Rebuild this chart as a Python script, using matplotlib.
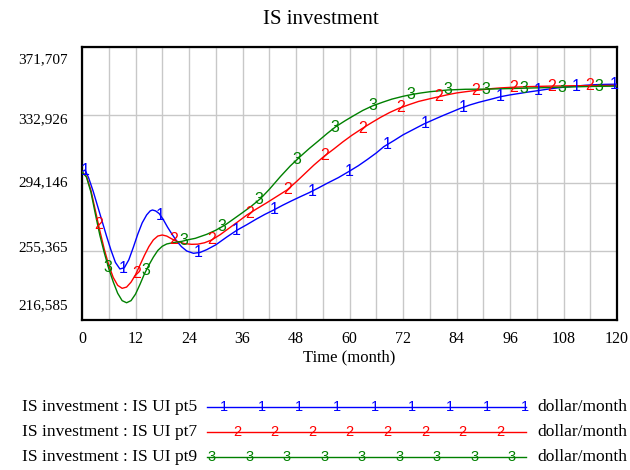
import numpy as np
import matplotlib
matplotlib.use("Agg")
import matplotlib.pyplot as plt
from matplotlib.lines import Line2D
import matplotlib.transforms as mtransforms

# data
t_pt5 = [0, 0.7, 1.5, 2.5, 3.5, 4.5, 5.5, 6.5, 7.5, 8.5, 9.5, 10.5, 11.5, 12.5, 13.5, 14.5, 15.3,
         15.8, 16.5, 17.3, 18.2, 19.2, 20.2, 21.2, 22.3, 23.5, 25, 26.5, 28, 30, 32.5, 34.8, 37,
         39, 41, 43, 45, 47, 49, 50.9, 53, 55, 57.5, 59.8, 62, 64, 66, 67.7, 70, 72, 74.5, 76.7,
         79, 81, 83, 84.9, 87, 89, 91.5, 93.9, 96, 98, 100, 102.2, 104, 106, 108.5, 111.2, 113,
         115, 117.5, 120]
v_pt5 = [300500, 301500, 297000, 289500, 281000, 272500, 264000, 256000, 249000, 245300, 246000,
         250500, 257500, 265000, 271500, 276000, 278300, 278800, 278300, 276800, 273500, 269000,
         265000, 261300, 258000, 255500, 254200, 254700, 256300, 259000, 263500, 267400, 270500,
         273500, 276300, 278800, 281500, 284000, 286400, 288600, 291300, 294000, 297200, 300600,
         304000, 307500, 311200, 314800, 318300, 321500, 324800, 327700, 330300, 332500, 334600,
         336600, 338500, 340000, 341600, 343200, 344200, 345000, 345800, 346600, 347300, 348000,
         348700, 349300, 349700, 350000, 350200, 350300]

t_pt7 = [0, 1, 2, 3, 4, 5, 6, 7, 8, 9, 10, 11, 12, 13, 14, 15, 16, 17, 18, 19, 20.2, 21.5, 23,
         24.6, 26, 27.5, 29.1, 31, 33, 35, 37, 39, 41.5, 44, 46, 48, 50, 52, 54.2, 56.5, 58.5,
         60.5, 62.9, 65, 67, 69, 71.1, 73.5, 75.5, 78, 80.1, 82, 84, 86, 87.9, 90, 92, 94, 96.2,
         100, 105, 110, 115, 120]
v_pt7 = [300500, 298000, 290000, 278500, 267000, 256500, 247500, 240500, 236000, 234300, 235000,
         237800, 242000, 247500, 253000, 258000, 261800, 264000, 264600, 264000, 262300, 260800,
         259700, 259300, 259400, 260200, 261800, 264800, 268500, 272200, 276000, 279200, 283000,
         287000, 290200, 294700, 299500, 304300, 309100, 313500, 317500, 321200, 325200, 328500,
         331500, 334200, 336600, 338800, 340500, 342000, 343200, 344300, 345300, 346000, 346600,
         347200, 347800, 348200, 348500, 348900, 349200, 349400, 349500, 349600]

t_pt9 = [0, 1, 2, 3, 4, 5, 6, 7, 8, 9, 10, 11, 12, 13, 14, 15, 16, 17, 18, 19, 20.5, 22.4, 24,
         25.4, 28, 30, 32.1, 34, 36, 38, 40, 42, 44.5, 46.7, 49, 51, 53, 55, 56.9, 59, 61, 63,
         65.1, 67.5, 69.5, 72, 74.1, 76, 78, 80, 82, 84, 86, 88.5, 90.9, 93.5, 96, 99, 102, 105,
         108, 111, 114, 117, 120]
v_pt9 = [300500, 297500, 289000, 276500, 264500, 254500, 245500, 238000, 231500, 227300, 226100,
         227300, 231000, 236500, 242500, 247500, 252000, 255800, 258200, 259500, 260300, 261000,
         262000, 262700, 265000, 267300, 270300, 273700, 277300, 281000, 285200, 290500, 297800,
         303800, 309300, 313800, 318000, 322300, 326100, 329500, 332500, 335400, 337900, 340100,
         341800, 343400, 344500, 345300, 346000, 346500, 347000, 347200, 347400, 347450, 347500,
         347650, 347800, 348000, 348200, 348400, 348600, 348800, 349000, 349100, 349200]

y_ticks = [216585, 255365.5, 294146, 332926.5, 371707]
y_tick_labels = ["216,585", "255,365", "294,146", "332,926", "371,707"]
x_ticks = list(range(0, 121, 12))

series = [
    ("IS investment : IS UI pt5", "1", "#0000ff", t_pt5, v_pt5, 0.7),
    ("IS investment : IS UI pt7", "2", "#ff0000", t_pt7, v_pt7, 3.7),
    ("IS investment : IS UI pt9", "3", "#008000", t_pt9, v_pt9, 5.9),
]

serif = "Liberation Serif"
marker_font = "Liberation Sans"

fig = plt.figure(figsize=(6.3, 4.7), dpi=100)
ax = fig.add_axes([82 / 630, 1 - 319.5 / 470, 535 / 630, 273 / 470])

for name, num, col, t, v, start in series:
    ax.plot(t, v, color=col, lw=1.0, zorder=3)
    # number labels along the line, Vensim style
    for m in np.arange(start, 120, 8.47):
        ax.text(m, np.interp(m, t, v), num, color=col, fontsize=11.5, family=marker_font,
                ha="center", va="center", zorder=4)

ax.set_xlim(0, 120)
ax.set_ylim(y_ticks[0], y_ticks[-1])
ax.set_xticks(x_ticks)
ax.set_xticklabels([str(x) for x in x_ticks], family=serif, fontsize=11.5)
ax.set_xticks(np.arange(0, 121, 6), minor=True)
ax.set_yticks(y_ticks)
ax.set_yticklabels([])
ax.tick_params(length=0, which="both", pad=8)
ax.grid(True, which="both", axis="x", color="#c8c8c8", lw=1)
ax.grid(True, axis="y", color="#c8c8c8", lw=1)
for s in ax.spines.values():
    s.set_linewidth(1.6)

# y labels are spread a bit inside the axis ends in the reference
nudge = [14, 4, 0, -5, -13]
trans = mtransforms.blended_transform_factory(ax.transAxes, ax.transData)
for val, lab, dy in zip(y_ticks, y_tick_labels, nudge):
    tr = trans + mtransforms.ScaledTranslation(0, dy / 100, fig.dpi_scale_trans)
    ax.text(-0.026, val, lab, transform=tr, ha="right", va="center", family=serif, fontsize=11)

ax.set_xlabel("Time (month)", family=serif, fontsize=12, labelpad=2)
fig.text(0.51, 1 - 19 / 470, "IS investment", ha="center", va="center", family=serif, fontsize=15)

# legend block under the chart
rows_y = [407, 432, 457]
n_marks = [9, 8, 9]
mark_span = [(224, 525), (237, 500), (212, 512)]
for (name, num, col, t, v, start), ry, n, (a, b) in zip(series, rows_y, n_marks, mark_span):
    yf = 1 - ry / 470
    fig.text(197 / 630, yf, name, ha="right", va="center", family=serif, fontsize=12.5)
    fig.add_artist(Line2D([207 / 630, 526 / 630], [yf, yf], color=col, lw=1.0))
    for xm in np.linspace(a, b, n):
        fig.text(xm / 630, yf, num, color=col, ha="center", va="center", fontsize=10.5,
                 family=marker_font)
    fig.text(537 / 630, yf, "dollar/month", ha="left", va="center", family=serif, fontsize=12.5)

fig.savefig("out.png", dpi=100)
